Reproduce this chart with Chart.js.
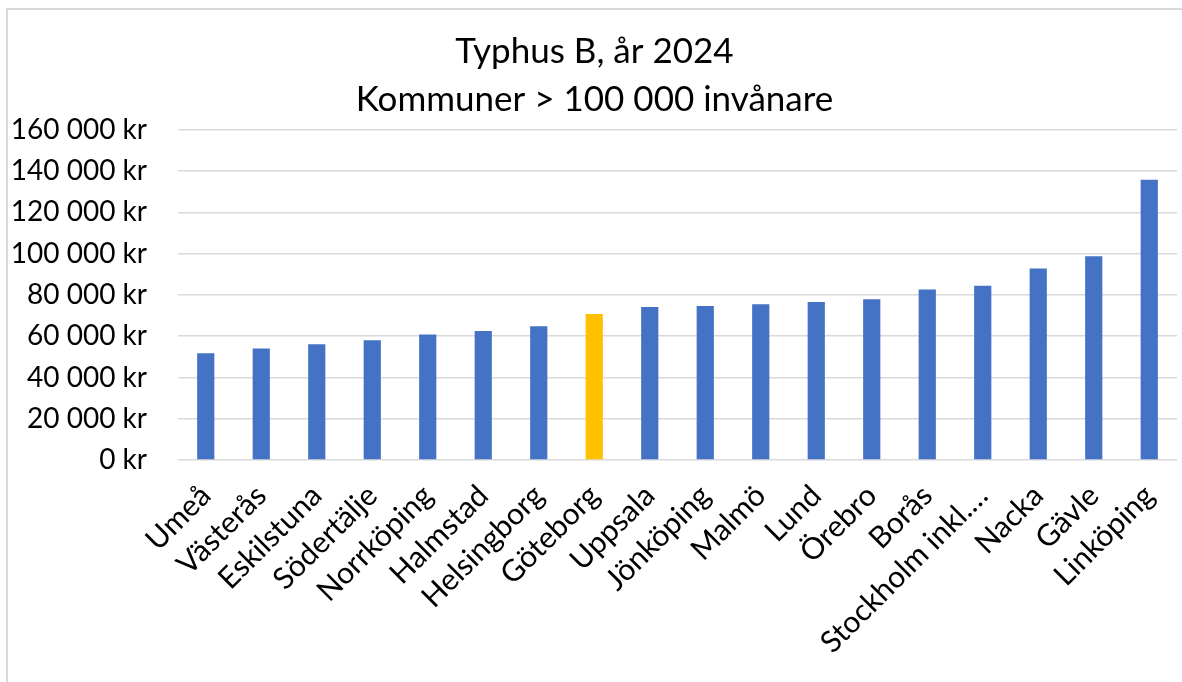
<!DOCTYPE html>
<html>
<head>
<meta charset="utf-8">
<script src="https://cdn.jsdelivr.net/npm/chart.js@4"></script>
<style>
  html, body { margin: 0; padding: 0; background: #fff; }
  #wrap { position: relative; width: 1182px; height: 682px; }
  #frame { position: absolute; left: 6px; top: 8px; right: 0; bottom: 0;
           border-top: 2px solid #d9d9d9; border-left: 2px solid #d9d9d9; pointer-events: none; }
</style>
</head>
<body>
<div id="wrap">
  <canvas id="chart" width="1182" height="682"></canvas>
  <div id="frame"></div>
</div>
<script>
// kommuner, sorterade efter kostnad
var kommuner = ['Umeå', 'Västerås', 'Eskilstuna', 'Södertälje', 'Norrköping', 'Halmstad',
    'Helsingborg', 'Göteborg', 'Uppsala', 'Jönköping', 'Malmö', 'Lund', 'Örebro', 'Borås',
    'Stockholm inkl.…', 'Nacka', 'Gävle', 'Linköping'];
var kostnad = [51700, 54000, 56100, 58000, 60800, 62500, 64800, 70800, 74200, 74700,
    75500, 76600, 77900, 82700, 84400, 92800, 98700, 135800];
var markerad = 'Göteborg';
var yTicks = [0, 20000, 40000, 60000, 80000, 100000, 120000, 140000, 160000];

var blue = '#4472C4';
var gold = '#FFC000';
var font = 'Lato';

function kr(v) {
    return String(v).replace(/\B(?=(\d{3})+(?!\d))/g, ' ') + ' kr';
}

var ctx = document.getElementById('chart').getContext('2d');
var chart = new Chart(ctx, {
    type: 'bar',
    data: {
        labels: kommuner,
        datasets: [{
            data: kostnad,
            backgroundColor: kommuner.map(function (k) { return k === markerad ? gold : blue; }),
            borderWidth: 0,
            categoryPercentage: 1,
            barPercentage: 0.31
        }]
    },
    options: {
        responsive: false,
        animation: false,
        layout: { padding: { left: 12, right: 5, top: 0, bottom: 0 } },
        plugins: {
            legend: { display: false },
            tooltip: { enabled: false },
            title: {
                display: true,
                text: ['Typhus B, år 2024', 'Kommuner > 100 000 invånare'],
                color: '#000',
                font: { family: font, size: 35, weight: 'normal', lineHeight: 1.37 },
                padding: { top: 28, bottom: 6 }
            }
        },
        scales: {
            x: {
                grid: { display: false, drawTicks: false },
                border: { display: false },
                ticks: {
                    color: '#000',
                    font: { family: font, size: 30 },
                    minRotation: 45,
                    maxRotation: 45,
                    autoSkip: false,
                    padding: 18
                },
                afterFit: function (s) {
                    s.height = 222;
                    s.paddingLeft = 0;
                    s.paddingRight = 0;
                }
            },
            y: {
                min: 0,
                max: 160000,
                afterBuildTicks: function (s) { s.ticks = yTicks.map(function (v) { return { value: v }; }); },
                grid: { color: '#d9d9d9', lineWidth: 1.5, drawTicks: false },
                border: { display: false },
                ticks: {
                    color: '#000',
                    font: { family: font, size: 28 },
                    padding: 31,
                    callback: function (v) { return kr(v); }
                },
                afterFit: function (s) { s.width = 166; }
            }
        }
    }
});
</script>
</body>
</html>
